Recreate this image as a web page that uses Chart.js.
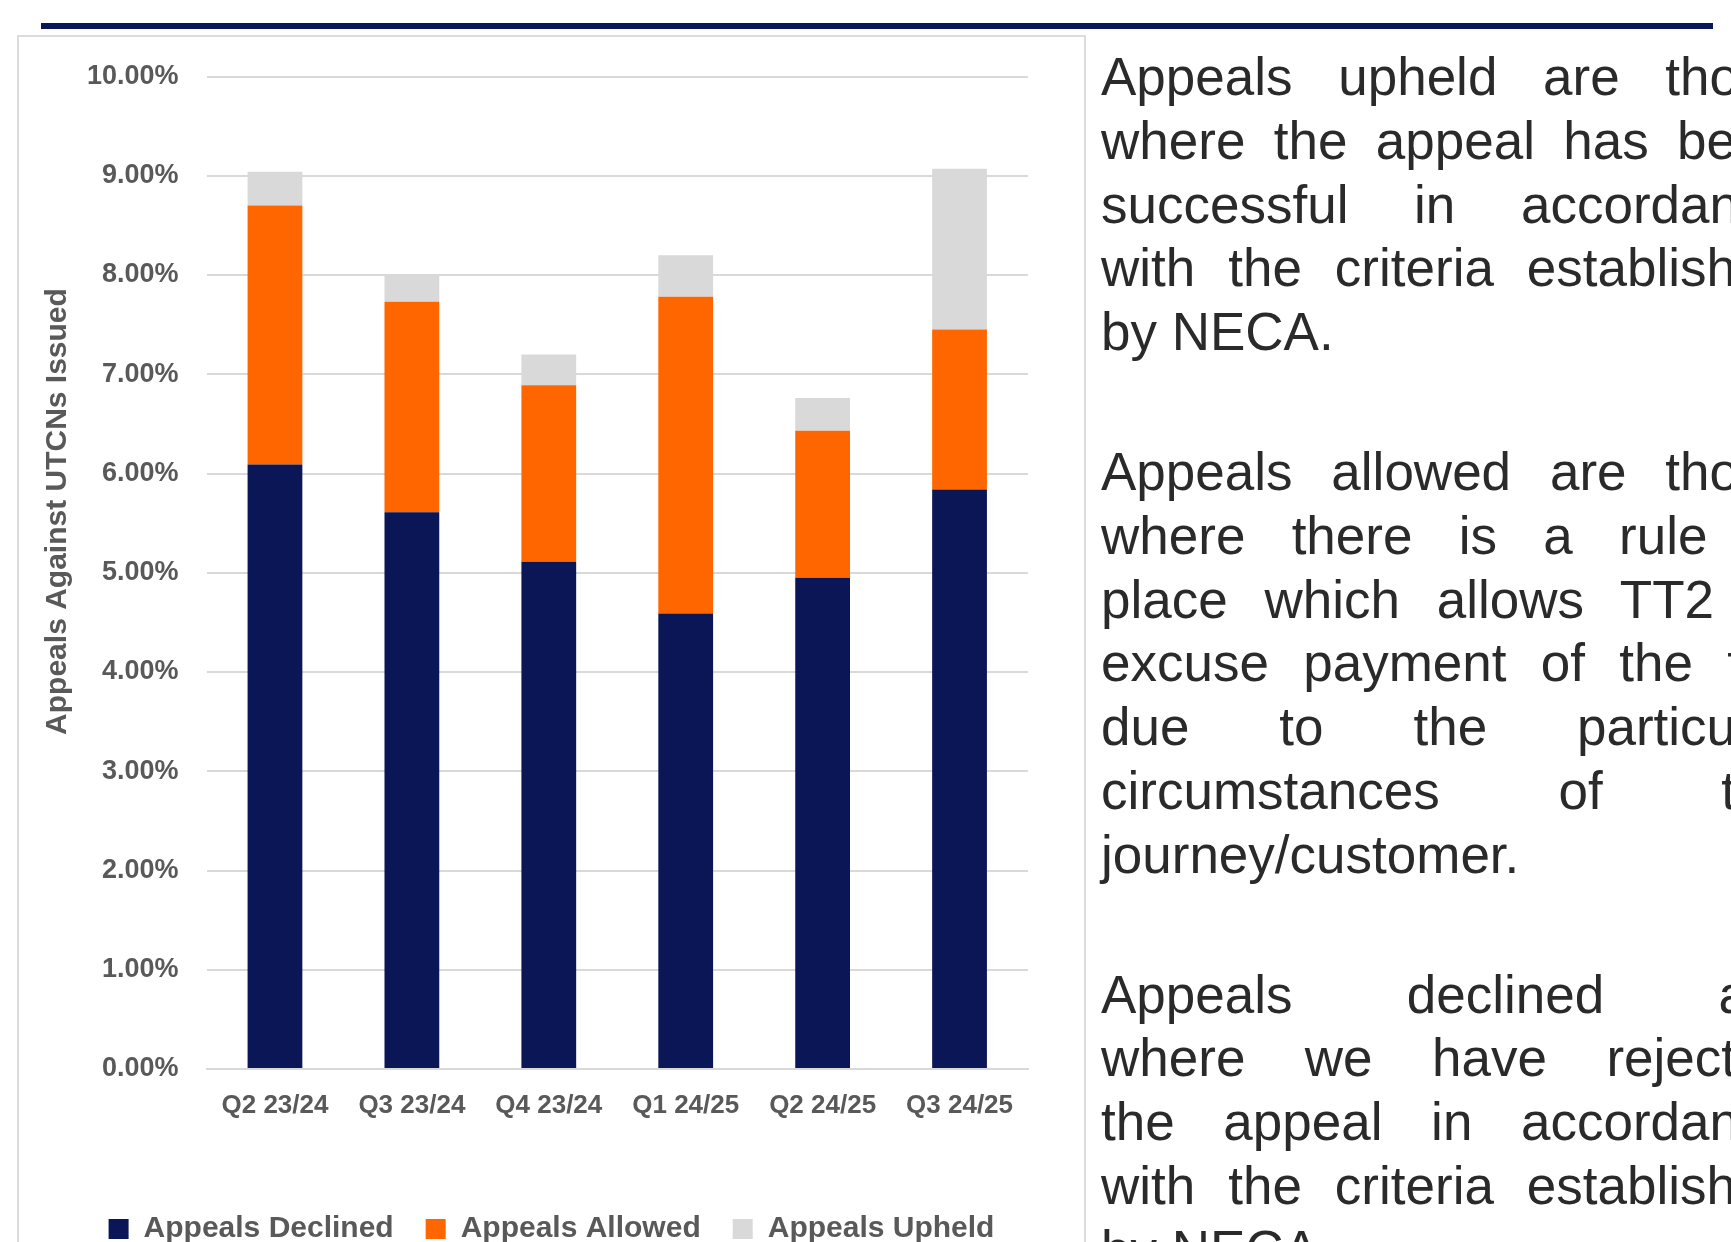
<!DOCTYPE html>
<html>
<head>
<meta charset="utf-8">
<script src="https://cdn.jsdelivr.net/npm/chart.js@4.4.1/dist/chart.umd.min.js"></script>
<style>
  html, body { margin: 0; padding: 0; background: #fff; overflow: hidden; width: 1731px; height: 1242px; }
  .rule { position: absolute; left: 41px; top: 23px; width: 1672px; height: 6px; background: #0a1655; }
  .box { position: absolute; left: 17px; top: 35px; width: 1069px; height: 1300px; border: 2px solid #dcdcdc; box-sizing: border-box; }
  .wrap { position: absolute; left: 0; top: 0; width: 1090px; height: 1254px; }
  .notes { position: absolute; left: 1101px; top: 45px; width: 694px; font-family: 'Liberation Sans', Arial, sans-serif; font-size: 53px; line-height: 63.75px; color: #2a2a2a; }
  .notes p { margin: 0 0 76.25px 0; }
  .notes .j { display: block; text-align: justify; text-align-last: justify; white-space: nowrap; }
  .notes .l { display: block; text-align: left; white-space: nowrap; }
</style>
</head>
<body>
<div class="rule"></div>
<div class="box"></div>
<div class="wrap"><canvas id="appealsChart"></canvas></div>
<div class="notes">
  <p><span class="j">Appeals upheld are those</span><span class="j">where the appeal has been</span><span class="j">successful in accordance</span><span class="j">with the criteria established</span><span class="l">by NECA.</span></p>
  <p><span class="j">Appeals allowed are those</span><span class="j">where there is a rule in</span><span class="j">place which allows TT2 to</span><span class="j">excuse payment of the toll</span><span class="j">due to the particular</span><span class="j">circumstances of the</span><span class="l">journey/customer.</span></p>
  <p><span class="j">Appeals declined are</span><span class="j">where we have rejected</span><span class="j">the appeal in accordance</span><span class="j">with the criteria established</span><span class="l">by NECA.</span></p>
</div>
<script>
// appeals as % of UTCNs issued, per quarter
const quarters = ['Q2 23/24', 'Q3 23/24', 'Q4 23/24', 'Q1 24/25', 'Q2 24/25', 'Q3 24/25'];
const declined = [6.09, 5.61, 5.11, 4.59, 4.95, 5.84];
const allowed = [2.61, 2.12, 1.78, 3.19, 1.48, 1.61];
const upheld = [0.34, 0.27, 0.31, 0.42, 0.33, 1.62];
const yAxisTitle = 'Appeals Against UTCNs Issued';

const grey = '#595959';
const font = 'Liberation Sans';

// y title sits higher than the plot centre in the original, so it is drawn here
const yTitlePlugin = {
    id: 'yTitle',
    afterDraw(chart) {
        const ctx = chart.ctx;
        ctx.save();
        ctx.translate(58, 511.5);
        ctx.rotate(-Math.PI / 2);
        ctx.font = 'bold 30px "' + font + '"';
        ctx.fillStyle = grey;
        ctx.textAlign = 'center';
        ctx.textBaseline = 'middle';
        ctx.fillText(yAxisTitle, 0, 0);
        ctx.restore();
    }
};

new Chart(document.getElementById('appealsChart'), {
    type: 'bar',
    data: {
        labels: quarters,
        datasets: [
            { label: 'Appeals Declined', data: declined, backgroundColor: '#0a1655' },
            { label: 'Appeals Allowed', data: allowed, backgroundColor: '#ff6600' },
            { label: 'Appeals Upheld', data: upheld, backgroundColor: '#d9d9d9' }
        ]
    },
    options: {
        responsive: true,
        maintainAspectRatio: false,
        animation: false,
        datasets: {
            bar: { barPercentage: 0.4, categoryPercentage: 1.0, borderWidth: 0 }
        },
        layout: {
            padding: { left: 75, right: 62, top: 76.5, bottom: 0 }
        },
        plugins: {
            legend: {
                display: true,
                position: 'bottom',
                labels: {
                    boxWidth: 20,
                    boxHeight: 20,
                    padding: 32,
                    color: grey,
                    font: { family: font, size: 30, weight: 'bold' }
                }
            },
            tooltip: { enabled: false }
        },
        scales: {
            x: {
                stacked: true,
                grid: { display: false, drawTicks: false },
                border: { display: true, color: '#d9d9d9', width: 2 },
                ticks: {
                    padding: 21,
                    color: grey,
                    font: { family: font, size: 26, weight: 'bold' }
                },
                afterFit(scale) { scale.height = 113; }
            },
            y: {
                stacked: true,
                min: 0,
                max: 10,
                grid: { color: '#d9d9d9', lineWidth: 2, drawTicks: false },
                border: { display: false },
                ticks: {
                    stepSize: 1,
                    padding: 28,
                    color: grey,
                    font: { family: font, size: 27, weight: 'bold' },
                    callback: (v) => v.toFixed(2) + '%'
                },
                afterFit(scale) { scale.width = 131.5; }
            }
        }
    },
    plugins: [yTitlePlugin]
});
</script>
</body>
</html>
